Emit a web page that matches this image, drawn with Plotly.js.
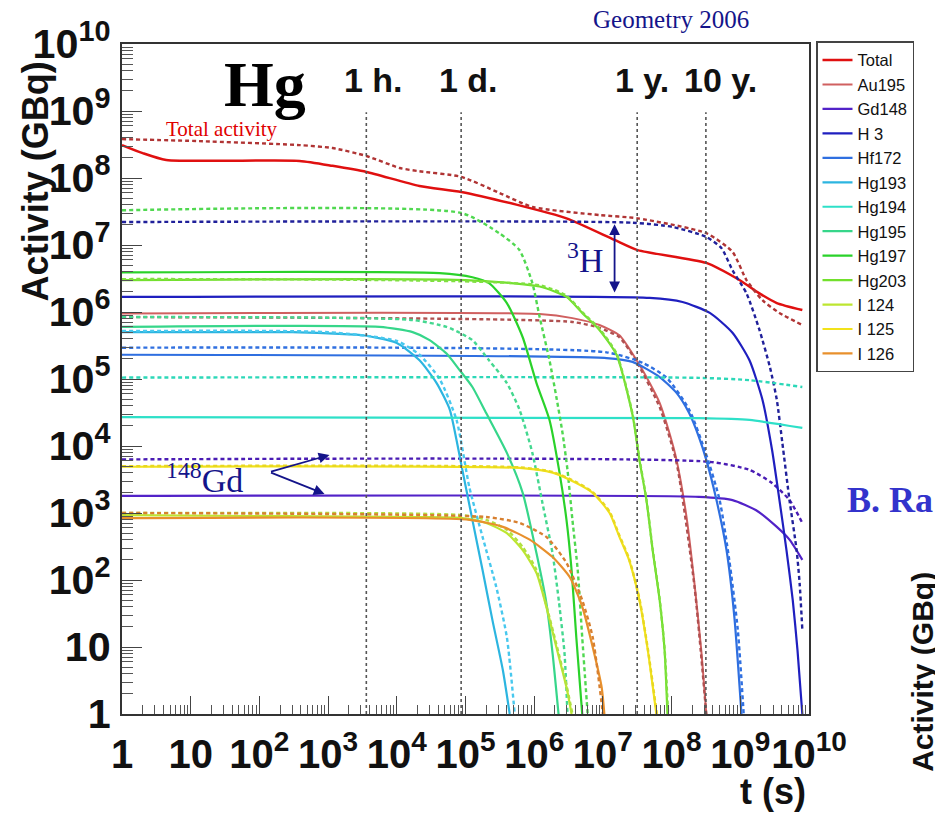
<!DOCTYPE html>
<html><head><meta charset="utf-8">
<script src="https://cdn.plot.ly/plotly-3.0.1.min.js"></script>
<style>html,body{margin:0;padding:0;background:#fff;}#chart{width:935px;height:818px;}</style>
</head><body><div id="chart"></div>
<script>
// ---- data (t in s, activity in GBq) ----
const totalT = [1, 2.0, 4.4, 384, 1160, 3620, 2.14e4, 8.7e4, 5.5e5, 2.95e6, 1.48e7, 3.2e7, 3.2e8, 9.7e8, 1.9e9, 3.4e9, 8.0e9];
const totalA = [3.1e8, 2.35e8, 1.86e8, 1.8e8, 1.52e8, 1.23e8, 7.6e7, 6.2e7, 4.0e7, 2.5e7, 1.19e7, 8.4e6, 5.4e6, 3.0e6, 1.9e6, 1.36e6, 1.07e6];
const totalDashT = [1, 13.4, 384, 1160, 3620, 1.1e4, 2.14e4, 8.7e4, 3.1e5, 9.4e5, 8.9e6, 3.2e7, 3.2e8, 7.7e8, 1.23e9, 2.1e9, 3.7e9, 8.0e9];
const totalDashA = [3.8e8, 3.55e8, 3.1e8, 2.8e8, 2.13e8, 1.41e8, 1.26e8, 1.04e8, 6.0e7, 3.7e7, 2.8e7, 2.5e7, 1.5e7, 7.9e6, 3.0e6, 1.5e6, 9.7e5, 6.4e5];

const au195T = [1, 1.2e6, 3.6e6, 8.9e6, 1.74e7, 3.1e7, 4.8e7, 6.7e7, 9.3e7, 1.18e8, 1.65e8, 2.15e8, 2.7e8, 3.2e8];
const au195A = [9.5e5, 9.3e5, 8.1e5, 6.4e5, 4.5e5, 1.9e5, 8.7e4, 4.4e4, 1.56e4, 6.2e3, 870, 90, 9, 1];
const au195DashT = [1, 3.6e6, 8.9e6, 1.74e7, 3.1e7, 6.7e7, 1.18e8, 2.15e8, 3.2e8];
const au195DashA = [8.4e5, 7.1e5, 5.8e5, 4.2e5, 1.8e5, 3.8e4, 5.6e3, 81, 1];

const gd148T = [1, 2.5e8, 7.7e8, 1.7e9, 3.4e9, 5.2e9, 8.0e9];
const gd148A = [1.8e3, 1.74e3, 1.56e3, 1.1e3, 620, 400, 200];
const gd148DashT = [1, 3.6e8, 1.36e9, 2.9e9, 5.2e9, 8.0e9];
const gd148DashA = [6.3e3, 5.8e3, 4.4e3, 2.8e3, 1.56e3, 710];

const h3T = [1, 4.8e7, 1.44e8, 3.6e8, 7.7e8, 1.36e9, 2.1e9, 2.9e9, 3.7e9, 4.7e9, 5.8e9, 6.8e9, 8.0e9];
const h3A = [1.68e6, 1.62e6, 1.41e6, 9.7e5, 4.9e5, 1.9e5, 4.9e4, 8.7e3, 1.6e3, 280, 50, 9, 1];
const h3DashT = [1, 2.7e7, 1.03e8, 3.2e8, 5.3e8, 7.7e8, 1.23e9, 1.9e9, 2.7e9, 3.4e9, 4.1e9, 5.2e9, 6.6e9, 7.3e9, 8.0e9];
const h3DashA = [2.2e7, 2.15e7, 1.86e7, 1.32e7, 9.0e6, 4.2e6, 1.9e6, 5.4e5, 1.5e5, 4.9e4, 1.1e4, 1.56e3, 280, 90, 18];

const hf172T = [1, 1.13e7, 2.7e7, 6.7e7, 1.18e8, 1.8e8, 2.5e8, 3.2e8, 4.5e8, 6.3e8, 8.2e8, 1.04e9];
const hf172A = [2.3e5, 2.05e5, 1.8e5, 1.07e5, 6.2e4, 3.1e4, 1.36e4, 6.2e3, 1.56e3, 280, 28, 1];
const hf172DashT = [1, 1.13e7, 3.8e7, 8.5e7, 1.8e8, 3.2e8, 5.0e8, 6.9e8, 9.2e8, 1.12e9];
const hf172DashA = [2.93e5, 2.5e5, 1.74e5, 1.04e5, 3.5e4, 7.4e3, 1.56e3, 200, 18, 1];

const hg193T = [1, 300, 1000, 3200, 1.0e4, 2.14e4, 3.8e4, 5.9e4, 7.4e4, 9.0e4, 1.26e5, 1.77e5, 2.47e5, 3.5e5, 4.4e5];
const hg193A = [5.0e5, 5.0e5, 4.8e5, 4.5e5, 3.45e5, 1.9e5, 8.7e4, 3.5e4, 1.23e4, 4.4e3, 790, 141, 25, 4.5, 1];
const hg193DashT = [1, 1000, 1.0e4, 2.14e4, 4.2e4, 7.4e4, 1.14e5, 1.77e5, 2.8e5, 4.0e5, 5.2e5];
const hg193DashA = [5.2e5, 5.0e5, 3.7e5, 2.3e5, 1.0e5, 2.45e4, 2.4e3, 440, 79, 14, 1];

const hg194T = [1, 2.5e8, 1.36e9, 8.0e9];
const hg194A = [2.7e4, 2.6e4, 2.45e4, 1.86e4];
const hg194DashT = [1, 2.5e8, 1.36e9, 8.0e9];
const hg194DashA = [1.05e5, 1.04e5, 9.6e4, 7.6e4];

const hg195T = [1, 5600, 1.7e4, 3.0e4, 5.3e4, 8.2e4, 1.26e5, 2.0e5, 4.0e5, 6.8e5, 1.08e6, 1.5e6, 1.85e6, 2.26e6];
const hg195A = [6.0e5, 6.0e5, 5.0e5, 3.8e5, 2.4e5, 1.36e5, 7.6e4, 3.1e4, 7.9e3, 2.0e3, 250, 46, 8.1, 1];
const hg195DashT = [1, 1.7e4, 5.3e4, 8.2e4, 1.26e5, 2.2e5, 4.0e5, 6.1e5, 9.4e5, 1.32e6, 1.85e6, 2.3e6, 2.76e6, 3.05e6];
const hg195DashA = [8.4e5, 7.6e5, 6.0e5, 4.9e5, 3.8e5, 1.9e5, 8.7e4, 3.5e4, 7.9e3, 1.4e3, 250, 46, 8.1, 1];

const hg197T = [1, 4.2e4, 1.26e5, 2.2e5, 4.0e5, 6.8e5, 1.08e6, 1.67e6, 2.3e6, 2.95e6, 3.5e6, 4.1e6, 5.0e6];
const hg197A = [3.9e6, 3.8e6, 3.3e6, 2.7e6, 1.36e6, 4.2e5, 8.7e4, 2.45e4, 4.4e3, 790, 141, 14, 1];
const hg197DashT = [1, 8.7e4, 3.1e5, 6.1e5, 9.4e5, 1.2e6, 1.67e6, 2.1e6, 2.6e6, 3.05e6, 3.6e6, 4.3e6, 5.0e6, 6.0e6];
const hg197DashA = [3.3e7, 3.0e7, 1.5e7, 8.4e6, 2.7e6, 8.4e5, 1.9e5, 5.4e4, 1.5e4, 4.4e3, 790, 141, 14, 1];

const hg203T = [1, 1.0e5, 1.2e6, 2.95e6, 5.0e6, 8.9e6, 1.58e7, 2.7e7, 3.4e7, 4.3e7, 5.3e7, 6.7e7, 7.9e7, 8.7e7];
const hg203A = [3.0e6, 3.0e6, 2.4e6, 1.68e6, 9.7e5, 5.4e5, 2.3e5, 2.9e4, 6.2e3, 1.56e3, 280, 50, 9, 1];
const hg203DashT = [1, 1.2e6, 2.95e6, 5.0e6, 8.9e6, 1.58e7, 2.7e7, 3.4e7, 4.3e7, 5.3e7, 6.7e7, 7.9e7, 8.9e7];
const hg203DashA = [3.1e6, 2.5e6, 1.75e6, 1.0e6, 5.6e5, 2.4e5, 3.0e4, 6.5e3, 1.6e3, 290, 52, 9.5, 1];

const i124T = [1, 2.14e4, 9.0e4, 2.0e5, 4.0e5, 6.8e5, 1.08e6, 1.5e6, 2.1e6, 2.95e6, 3.5e6];
const i124A = [930, 870, 840, 710, 500, 280, 127, 40, 10, 2.5, 1];
const i124DashT = [1, 9.0e4, 2.0e5, 4.0e5, 6.8e5, 1.08e6, 1.5e6, 2.1e6, 2.95e6, 3.6e6];
const i124DashA = [1.0e3, 930, 790, 560, 310, 141, 42, 11, 2.7, 1];

const i125T = [1, 6.1e5, 1.85e6, 4.1e6, 7.1e6, 1.25e7, 1.74e7, 2.4e7, 3.4e7, 4.5e7, 6.0e7];
const i125A = [4.9e3, 4.7e3, 4.0e3, 2.8e3, 2.0e3, 1.0e3, 440, 200, 50, 9, 1];
const i125DashT = [1, 6.1e5, 1.85e6, 4.1e6, 7.1e6, 1.25e7, 1.74e7, 2.4e7, 3.4e7, 4.5e7, 6.1e7];
const i125DashA = [5.0e3, 4.8e3, 4.1e3, 2.9e3, 2.05e3, 1.05e3, 460, 210, 53, 9.5, 1];

const i126T = [1, 1.14e5, 3.5e5, 8.6e5, 1.85e6, 3.3e6, 5.0e6, 7.1e6, 9.6e6, 1.05e7];
const i126A = [840, 790, 620, 400, 220, 110, 40, 10, 2.5, 1];
const i126DashT = [1, 2.0e5, 6.1e5, 1.5e6, 2.95e6, 5.0e6, 7.1e6, 1.0e7];
const i126DashA = [1.0e3, 870, 710, 440, 180, 50, 14, 1];

const seriesNames = ['Total', 'Au195', 'Gd148', 'H 3', 'Hf172', 'Hg193', 'Hg194', 'Hg195', 'Hg197', 'Hg203', 'I 124', 'I 125', 'I 126'];

// time markers
const markTimes = [3600, 86400, 3.156e7, 3.156e8];
const markLabels = ['1 h.', '1 d.', '1 y.', '10 y.'];

// ---- styles ----
const solidColors = ['#e01010', '#d06060', '#5222c8', '#1f1fbf', '#2f6fe0', '#2cb5e0', '#2ee0c8', '#36d68a', '#2ad22a', '#72e02c', '#bde630', '#f2e21a', '#e8902c'];
const dashColors  = ['#b03434', '#b05050', '#4a1cb4', '#20209a', '#3070e0', '#48c8ee', '#2cd8b8', '#44d890', '#50d850', '#80e040', '#b0e040', '#e8d820', '#d88030'];

const solidData = [[totalT, totalA], [au195T, au195A], [gd148T, gd148A], [h3T, h3A], [hf172T, hf172A], [hg193T, hg193A], [hg194T, hg194A], [hg195T, hg195A], [hg197T, hg197A], [hg203T, hg203A], [i124T, i124A], [i125T, i125A], [i126T, i126A]];
const dashData = [[totalDashT, totalDashA], [au195DashT, au195DashA], [gd148DashT, gd148DashA], [h3DashT, h3DashA], [hf172DashT, hf172DashA], [hg193DashT, hg193DashA], [hg194DashT, hg194DashA], [hg195DashT, hg195DashA], [hg197DashT, hg197DashA], [hg203DashT, hg203DashA], [i124DashT, i124DashA], [i125DashT, i125DashA], [i126DashT, i126DashA]];

const traces = [];
seriesNames.forEach((nm, i) => {
  traces.push({
    type: 'scatter', mode: 'lines', name: nm, legendgroup: nm,
    x: solidData[i][0], y: solidData[i][1],
    line: {color: solidColors[i], width: i === 0 ? 2.5 : (i === 1 ? 2 : 2.2), shape: 'spline', smoothing: 0.6},
    hoverinfo: 'skip'
  });
  traces.push({
    type: 'scatter', mode: 'lines', name: nm + ' (dashed)', legendgroup: nm, showlegend: false,
    x: dashData[i][0], y: dashData[i][1],
    line: {color: dashColors[i], width: 2.4, dash: '4px,3px', shape: 'spline', smoothing: 0.6},
    hoverinfo: 'skip'
  });
});

const sans = 'Liberation Sans, Arial, sans-serif';
const serif = 'Liberation Serif, Times New Roman, serif';
const navy = '#14148a';

const shapes = markTimes.map(t => ({
  type: 'line', xref: 'x', yref: 'paper', x0: t, x1: t, y0: 0, y1: 0.898,
  line: {color: '#555', width: 1.6, dash: '3px,3px'}
}));

const annotations = [];
markTimes.forEach((t, i) => {
  annotations.push({xref: 'x', yref: 'paper', x: Math.log10(t), y: 0.946, xanchor: 'left', yanchor: 'middle', xshift: -24,
    text: markLabels[i], showarrow: false, font: {family: sans, size: 34, weight: 'bold', color: '#111'}});
});
annotations.push(
  {xref: 'paper', yref: 'paper', x: 0.799, y: 1.036, text: 'Geometry 2006', showarrow: false, xanchor: 'center', yanchor: 'middle', font: {family: serif, size: 25, color: navy}},
  {xref: 'paper', yref: 'paper', x: 0.208, y: 0.94, text: '<b>Hg</b>', showarrow: false, xanchor: 'center', yanchor: 'middle', font: {family: serif, size: 64, color: '#000'}},
  {xref: 'paper', yref: 'paper', x: 0.1456, y: 0.8735, text: 'Total activity', showarrow: false, xanchor: 'center', yanchor: 'middle', font: {family: serif, size: 21, color: '#e00000'}},
  {xref: 'paper', yref: 'paper', x: 0.6739, y: 0.6806, text: '<sup>3</sup>H', showarrow: false, xanchor: 'center', yanchor: 'middle', font: {family: serif, size: 34, color: navy}},
  {xref: 'paper', yref: 'paper', x: 0.1208, y: 0.3522, text: '<sup>148</sup>Gd', showarrow: false, xanchor: 'center', yanchor: 'middle', font: {family: serif, size: 34, color: navy}},
  // 3H double arrow
  {xref: 'x', yref: 'y', axref: 'x', ayref: 'y', x: 7.17, y: 7.31, ax: 7.17, ay: 6.27, text: '', showarrow: true, arrowhead: 2, startarrowhead: 2, arrowside: 'end+start', arrowsize: 1.2, startarrowsize: 1.2, arrowwidth: 1.8, arrowcolor: navy},
  // 148Gd arrows
  {xref: 'x', yref: 'y', axref: 'x', ayref: 'y', x: 3.02, y: 3.866, ax: 2.147, ay: 3.612, text: '', showarrow: true, arrowhead: 2, arrowsize: 1.2, arrowwidth: 1.8, arrowcolor: navy},
  {xref: 'x', yref: 'y', axref: 'x', ayref: 'y', x: 2.948, y: 3.284, ax: 2.147, ay: 3.612, text: '', showarrow: true, arrowhead: 2, arrowsize: 1.2, arrowwidth: 1.8, arrowcolor: navy},
  // axis titles
  {xref: 'paper', yref: 'paper', x: 0.9985, y: -0.1164, text: 't (s)', showarrow: false, xanchor: 'right', yanchor: 'middle', font: {family: sans, size: 36, weight: 'bold', color: '#111'}},
  {xref: 'paper', yref: 'paper', x: -0.1266, y: 0.795, text: 'Activity (GBq)', textangle: -90, showarrow: false, xanchor: 'center', yanchor: 'middle', font: {family: sans, size: 36, weight: 'bold', color: '#111'}},
  // neighbouring panel fragments
  {xref: 'paper', yref: 'paper', x: 1.052, y: 0.319, text: '<b>B. Ra</b>', showarrow: false, xanchor: 'left', yanchor: 'middle', font: {family: serif, size: 36, color: '#3333cc'}},
  {xref: 'paper', yref: 'paper', x: 1.166, y: 0.063, text: 'Activity (GBq)', textangle: -90, showarrow: false, xanchor: 'center', yanchor: 'middle', font: {family: sans, size: 30, weight: 'bold', color: '#111'}}
);

const axisCommon = {
  type: 'log', range: [0, 10], dtick: 1, exponentformat: 'power', tickangle: 0,
  showline: true, linecolor: '#333', linewidth: 1.6, mirror: true,
  showgrid: false, zeroline: false, ticks: 'inside', tickcolor: '#444', tickwidth: 1.2,
  minor: {dtick: 'D1', ticks: 'inside', tickcolor: '#555', tickwidth: 1, showgrid: false}
};

const layout = {
  width: 935, height: 818,
  margin: {l: 122, r: 126, t: 44, b: 104},
  paper_bgcolor: '#fff', plot_bgcolor: '#fff',
  showlegend: true,
  legend: {x: 1.0102, xanchor: 'left', y: 1.004, yanchor: 'top', bordercolor: '#444', borderwidth: 1.5, bgcolor: '#fff',
           font: {family: sans, size: 16.5, color: '#111'}, tracegroupgap: 0, itemwidth: 30},
  xaxis: Object.assign({}, axisCommon, {ticklen: 18, minor: Object.assign({}, axisCommon.minor, {ticklen: 9}), ticklabelstandoff: 6,
                                        tickfont: {family: sans, size: 32, weight: 'bold', color: '#111'}}),
  yaxis: Object.assign({}, axisCommon, {ticklen: 20, minor: Object.assign({}, axisCommon.minor, {ticklen: 11}), ticklabelstandoff: 3,
                                        tickfont: {family: sans, size: 33, weight: 'bold', color: '#111'}}),
  shapes: shapes,
  annotations: annotations
};

Plotly.newPlot('chart', traces, layout, {displayModeBar: false, responsive: false});
</script></body></html>
